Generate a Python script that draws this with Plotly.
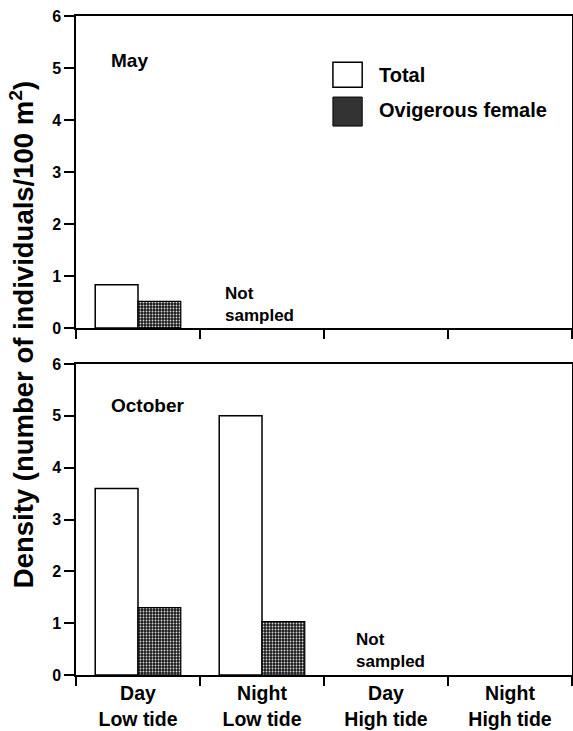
import plotly.graph_objects as go
from plotly.subplots import make_subplots

categories = ["Day<br>Low tide", "Night<br>Low tide", "Day<br>High tide", "Night<br>High tide"]
may_total = [0.83, None, None, None]
may_ovig = [0.51, None, None, None]
oct_total = [3.6, 5.0, None, None]
oct_ovig = [1.3, 1.03, None, None]
series_names = ["Total", "Ovigerous female"]
panel_labels = ["May", "October"]
yticks = [0, 1, 2, 3, 4, 5, 6]

FONT = "Liberation Sans, Arial, Helvetica, sans-serif"

fig = make_subplots(rows=2, cols=1, shared_xaxes=False, vertical_spacing=0.0)

pattern = dict(shape=".", fgcolor="#dcdcdc", bgcolor="#1a1a1a", size=3, solidity=0.3, fillmode="replace")

for row, (tot, ovi) in enumerate([(may_total, may_ovig), (oct_total, oct_ovig)], start=1):
    fig.add_trace(go.Bar(x=categories, y=tot, name=series_names[0],
                         marker=dict(color="white", line=dict(color="black", width=1.5)),
                         showlegend=False), row=row, col=1)
    fig.add_trace(go.Bar(x=categories, y=ovi, name=series_names[1],
                         marker=dict(color="#1a1a1a", line=dict(color="black", width=1.2), pattern=pattern),
                         showlegend=False), row=row, col=1)

axis_common = dict(showline=True, linecolor="black", linewidth=1.5, mirror=True,
                   showgrid=False, zeroline=False, automargin=False)

for r in (1, 2):
    fig.update_xaxes(type="category", categoryorder="array", categoryarray=categories,
                     range=[-0.5, 3.5], tickson="boundaries", ticks="outside", ticklen=9,
                     tickwidth=1.5, tickcolor="black",
                     showticklabels=(r == 2),
                     tickfont=dict(family=FONT, size=19.5, color="black", weight="bold"),
                     row=r, col=1, **axis_common)
    fig.update_yaxes(range=[0, 6], tickvals=yticks, ticks="outside", ticklen=10,
                     tickwidth=1.5, tickcolor="black",
                     tickfont=dict(family=FONT, size=16, color="black", weight="bold"),
                     row=r, col=1, **axis_common)

fig.update_layout(
    width=573, height=731,
    margin=dict(l=76, r=1, t=16, b=56),
    paper_bgcolor="white", plot_bgcolor="white",
    barmode="group", bargap=0.31, bargroupgap=0.0,
    xaxis=dict(domain=[0, 1]), xaxis2=dict(domain=[0, 1]),
    yaxis=dict(domain=[0.5266, 1.0]), yaxis2=dict(domain=[0.0, 0.4719]),
)

lab_font = dict(family=FONT, size=19, color="black", weight="bold")
ns_font = dict(family=FONT, size=17, color="black", weight="bold")

annots = [
    dict(text=panel_labels[0], x=-0.23, y=5.15, xref="x", yref="y", xanchor="left", yanchor="middle",
         showarrow=False, font=lab_font),
    dict(text=panel_labels[1], x=-0.235, y=5.2, xref="x2", yref="y2", xanchor="left", yanchor="middle",
         showarrow=False, font=lab_font),
    dict(text="Not<br>sampled", x=0.685, y=0.46, xref="x", yref="y", xanchor="left", yanchor="middle",
         align="left", showarrow=False, font=ns_font),
    dict(text="Not<br>sampled", x=1.742, y=0.48, xref="x2", yref="y2", xanchor="left", yanchor="middle",
         align="left", showarrow=False, font=ns_font),
    dict(text="Density (number of individuals/100 m<sup>2</sup>)", x=-0.109, y=0.517,
         xref="paper", yref="paper", xanchor="center", yanchor="middle", textangle=-90,
         showarrow=False, font=dict(family=FONT, size=27.5, color="black", weight="bold")),
    dict(text=series_names[0], x=0.607, y=0.9105, xref="paper", yref="paper", xanchor="left",
         yanchor="middle", showarrow=False, font=dict(family=FONT, size=20, color="black", weight="bold")),
    dict(text=series_names[1], x=0.607, y=0.857, xref="paper", yref="paper", xanchor="left",
         yanchor="middle", showarrow=False, font=dict(family=FONT, size=20, color="black", weight="bold")),
]
fig.update_layout(annotations=annots)

fig.add_shape(type="rect", xref="paper", yref="paper", x0=0.518, x1=0.577, y0=0.892, y1=0.930,
              fillcolor="white", line=dict(color="black", width=1.5))
fig.add_shape(type="rect", xref="paper", yref="paper", x0=0.518, x1=0.577, y0=0.833, y1=0.877,
              fillcolor="#333333", line=dict(color="black", width=1))

fig.write_html("out.html")
